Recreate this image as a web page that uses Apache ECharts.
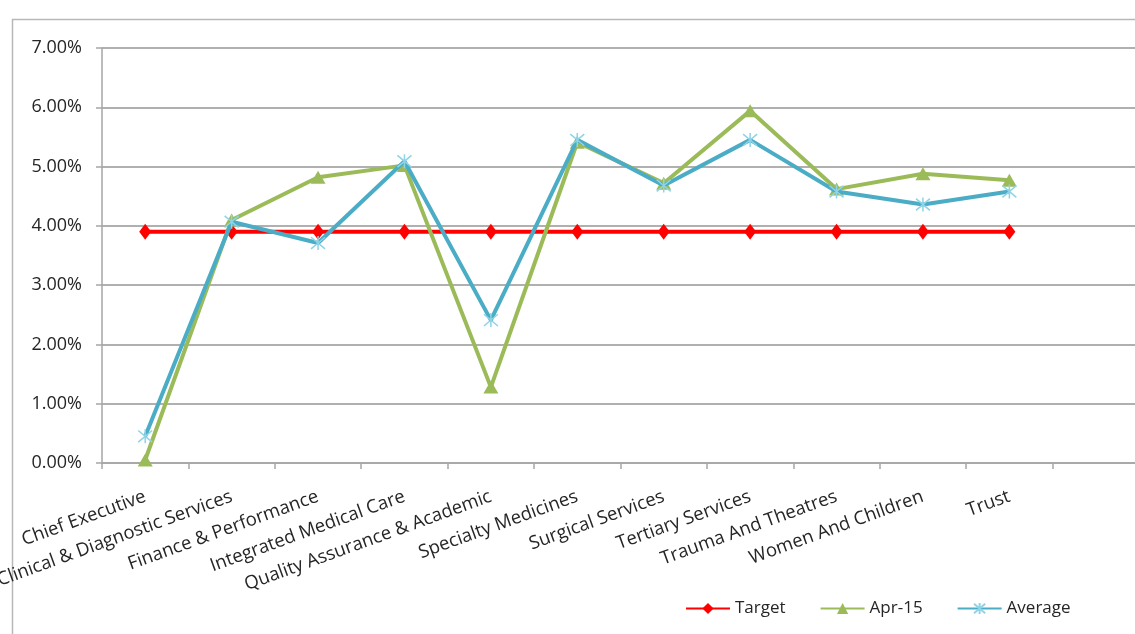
<!DOCTYPE html>
<html>
<head>
<meta charset="utf-8">
<script src="https://cdn.jsdelivr.net/npm/echarts@6/dist/echarts.min.js"></script>
<style>
  html, body { margin: 0; padding: 0; background: #fff; }
  #chart { width: 1135px; height: 634px; }
</style>
</head>
<body>
<div id="chart"></div>
<script>
// categories on the x axis (last slot is empty in the original)
var categories = ['Chief Executive', 'Clinical & Diagnostic Services', 'Finance & Performance',
    'Integrated Medical Care', 'Quality Assurance & Academic', 'Specialty Medicines',
    'Surgical Services', 'Tertiary Services', 'Trauma And Theatres', 'Women And Children', 'Trust', ''];

var targetValues = [3.9, 3.9, 3.9, 3.9, 3.9, 3.9, 3.9, 3.9, 3.9, 3.9, 3.9];
var apr15Values = [0.05, 4.10, 4.82, 5.02, 1.28, 5.41, 4.72, 5.94, 4.62, 4.88, 4.77];
var averageValues = [0.45, 4.07, 3.71, 5.09, 2.41, 5.45, 4.68, 5.45, 4.58, 4.36, 4.58];

var yTicks = [0, 1, 2, 3, 4, 5, 6, 7];

var dom = document.getElementById('chart');
var myChart = echarts.init(dom);

var font = 'Open Sans';
var starPath = 'path://M0,0L10,10M10,0L0,10M5,-1L5,11';

var option = {
    animation: false,
    backgroundColor: '#fff',
    graphic: [{
        type: 'rect',
        left: 10, top: 17,
        shape: { width: 1140, height: 630 },
        style: { fill: 'none', stroke: '#b8b8b8', lineWidth: 1.5 },
        z: -1
    }],
    grid: { left: 102, top: 48, bottom: 171, right: -4, outerBoundsMode: 'none', containLabel: false },
    legend: {
        left: 680, top: 595,
        itemWidth: 44, itemHeight: 14, itemGap: 34,
        textStyle: { fontFamily: font, fontSize: 17, color: '#262626' },
        data: ['Target', 'Apr-15', 'Average']
    },
    xAxis: {
        type: 'category',
        data: categories,
        boundaryGap: true,
        axisLine: { lineStyle: { color: '#a6a6a6', width: 1.5 } },
        axisTick: { show: true, length: 6, lineStyle: { color: '#a6a6a6', width: 1.5 } },
        axisLabel: {
            interval: 0, rotate: 20, margin: 33,
            fontFamily: font, fontSize: 18.5, color: '#262626'
        },
        splitLine: { show: false }
    },
    yAxis: {
        type: 'value',
        min: 0, max: 7, interval: 1,
        axisLine: { show: true, lineStyle: { color: '#a6a6a6', width: 1.5 } },
        axisTick: { show: true, length: 6, lineStyle: { color: '#a6a6a6', width: 1.5 } },
        axisLabel: {
            margin: 20,
            fontFamily: font, fontSize: 18, color: '#262626',
            formatter: function (v) { return yTicks.indexOf(v) >= 0 ? v.toFixed(2) + '%' : ''; }
        },
        splitLine: { lineStyle: { color: '#b0b0b0', width: 1.8 } }
    },
    series: [
        {
            name: 'Target',
            type: 'line',
            data: targetValues,
            symbol: 'diamond',
            symbolSize: [12, 16],
            lineStyle: { color: '#ff0000', width: 4 },
            itemStyle: { color: '#ff0000' },
            z: 3
        },
        {
            name: 'Apr-15',
            type: 'line',
            data: apr15Values,
            symbol: 'triangle',
            symbolSize: [15, 13],
            lineStyle: { color: '#9bbb59', width: 4 },
            itemStyle: { color: '#9bbb59' },
            z: 4
        },
        {
            name: 'Average',
            type: 'line',
            data: averageValues,
            symbol: starPath,
            symbolSize: 14,
            lineStyle: { color: '#4bacc6', width: 4 },
            itemStyle: { color: '#4bacc6', borderColor: '#8fd3e6', borderWidth: 1.5 },
            z: 5
        }
    ]
};

if (option && typeof option === 'object') {
    myChart.setOption(option);
}
</script>
</body>
</html>
